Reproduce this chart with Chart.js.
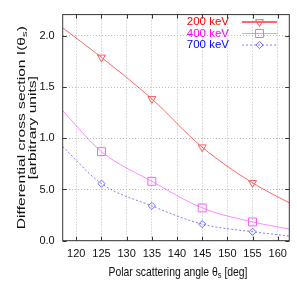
<!DOCTYPE html>
<html>
<head>
<meta charset="utf-8">
<script src="https://cdn.jsdelivr.net/npm/chart.js@4/dist/chart.umd.min.js"></script>
<style>
    html, body { margin: 0; padding: 0; background: #fff; }
    #wrap { width: 297px; height: 287px; }
</style>
</head>
<body>
<div id="wrap"><canvas id="chart" width="297" height="287"></canvas></div>
<script>
// 数据
const angles = [125, 135, 145, 155];
const keV200 = [1.79, 1.385, 0.913, 0.565];
const keV400 = [0.87, 0.58, 0.32, 0.183];
const keV700 = [0.557, 0.34, 0.162, 0.087];

// 拟合曲线
const curveAngles = [117.3, 125, 135, 145, 155, 162.3];
const curve200 = [2.078, 1.79, 1.385, 0.913, 0.565, 0.369];
const curve400 = [1.269, 0.87, 0.58, 0.32, 0.183, 0.114];
const curve700 = [0.919, 0.557, 0.34, 0.162, 0.087, 0.046];

const seriesLabels = ['200 keV', '400 keV', '700 keV'];
const xTicks = [120, 125, 130, 135, 140, 145, 150, 155, 160];
const yTicks = [0, 0.5, 1.0, 1.5, 2.0];
const yTickLabels = ['0.0', '5.0', '1.0', '1.5', '2.0'];

const FONT = '"Liberation Sans", Arial, sans-serif';

const styles = [
    { text: '#ff0000', line: 'rgba(255,40,40,0.7)', mark: '#ff5c5c', point: 'triangle', rot: 180, radius: 4.6, dash: [] },
    { text: '#ff00ff', line: 'rgba(255,40,255,0.55)', mark: '#ff5cff', point: 'rect', rot: 0, radius: 5.6, dash: [] },
    { text: '#0000ff', line: 'rgba(40,40,255,0.6)', mark: '#6a6aff', point: 'rectRot', rot: 0, radius: 3.6, dash: [2, 2] }
];

const toXY = (xs, ys) => xs.map((x, i) => ({ x: x, y: ys[i] }));

// 绘制带下标的文字（居中，可拉伸）
function drawRich(ctx, parts, x, y, size, sx, sy) {
    const sub = size * 0.72;
    ctx.save();
    ctx.translate(x, y);
    ctx.scale(sx, sy);
    let total = 0;
    parts.forEach(p => {
        ctx.font = `${p.sub ? sub : size}px ${FONT}`;
        total += ctx.measureText(p.t).width;
    });
    let cx = -total / 2;
    parts.forEach(p => {
        ctx.font = `${p.sub ? sub : size}px ${FONT}`;
        ctx.fillText(p.t, cx, p.sub ? size * 0.25 : 0);
        cx += ctx.measureText(p.t).width;
    });
    ctx.restore();
}

// 边框、内向刻度、坐标轴标题、图例
const framePlugin = {
    id: 'frame',
    afterDatasetsDraw(chart) {
        const { ctx, chartArea: a, scales } = chart;
        ctx.save();
        ctx.strokeStyle = '#333';
        ctx.lineWidth = 1;
        ctx.strokeRect(a.left, a.top, a.right - a.left, a.bottom - a.top);

        ctx.beginPath();
        xTicks.forEach(v => {
            const px = Math.round(scales.x.getPixelForValue(v)) + 0.5;
            ctx.moveTo(px, a.bottom); ctx.lineTo(px, a.bottom - 4);
            ctx.moveTo(px, a.top); ctx.lineTo(px, a.top + 4);
        });
        yTicks.forEach(v => {
            const py = Math.round(scales.y.getPixelForValue(v)) + 0.5;
            ctx.moveTo(a.left, py); ctx.lineTo(a.left + 4, py);
            ctx.moveTo(a.right, py); ctx.lineTo(a.right - 4, py);
        });
        ctx.stroke();

        // 图例
        const ys = [22, 33.5, 45];
        seriesLabels.forEach((label, i) => {
            const s = styles[i];
            const y = ys[i];
            ctx.fillStyle = s.text;
            ctx.font = `11.5px ${FONT}`;
            ctx.textAlign = 'right';
            ctx.textBaseline = 'middle';
            ctx.fillText(label, 229, y);
            ctx.strokeStyle = s.line;
            ctx.lineWidth = i === 0 ? 2 : 1;
            ctx.setLineDash(s.dash);
            ctx.beginPath();
            ctx.moveTo(242, y); ctx.lineTo(277, y);
            ctx.stroke();
            ctx.setLineDash([]);
            ctx.lineWidth = 1;
            ctx.strokeStyle = s.mark;
            ctx.fillStyle = 'rgba(0,0,0,0)';
            Chart.helpers.drawPoint(ctx, {
                pointStyle: s.point, rotation: s.rot, radius: s.radius, borderWidth: 1
            }, 259.5, y);
        });

        // 坐标轴标题
        ctx.fillStyle = '#111';
        ctx.textAlign = 'left';
        ctx.textBaseline = 'middle';
        const cx = (a.left + a.right) / 2;
        drawRich(ctx, [{ t: 'Polar scattering angle θ' }, { t: 's', sub: true }, { t: ' [deg]' }], cx + 2, 272, 13, 0.8, 1);

        const cy = (a.top + a.bottom) / 2;
        ctx.translate(0, cy);
        ctx.rotate(-Math.PI / 2);
        drawRich(ctx, [{ t: 'Differential cross section I(θ' }, { t: 's', sub: true }, { t: ')' }], 0, 22, 13, 1.2, 0.85);
        drawRich(ctx, [{ t: '[arbitrary units]' }], 0, 33, 13, 1.2, 0.85);
        ctx.restore();
    }
};

const curveSet = (data, i) => ({
    type: 'line',
    data: toXY(curveAngles, data),
    borderColor: styles[i].line,
    borderWidth: 1,
    borderDash: styles[i].dash,
    pointRadius: 0,
    cubicInterpolationMode: 'monotone',
    fill: false,
    order: 2
});

const markerSet = (data, i) => ({
    type: 'scatter',
    data: toXY(angles, data),
    borderColor: styles[i].mark,
    backgroundColor: 'rgba(0,0,0,0)',
    borderWidth: 1,
    pointStyle: styles[i].point,
    rotation: styles[i].rot,
    pointRadius: styles[i].radius,
    showLine: false,
    order: 1
});

new Chart(document.getElementById('chart').getContext('2d'), {
    data: {
        datasets: [
            curveSet(curve200, 0), curveSet(curve400, 1), curveSet(curve700, 2),
            markerSet(keV200, 0), markerSet(keV400, 1), markerSet(keV700, 2)
        ]
    },
    options: {
        responsive: false,
        animation: false,
        devicePixelRatio: 1,
        layout: { padding: { left: 0, right: 7.7, top: 13.3, bottom: 0 } },
        plugins: { legend: { display: false }, tooltip: { enabled: false } },
        scales: {
            x: {
                type: 'linear',
                min: 117.3,
                max: 162.3,
                afterBuildTicks: s => { s.ticks = xTicks.map(v => ({ value: v })); },
                afterFit: s => { s.height = 46.3; },
                ticks: { color: '#111', font: { family: FONT, size: 11 }, padding: 7, maxRotation: 0 },
                grid: { color: '#bbb', drawTicks: false },
                border: { display: false, dash: [1, 2] }
            },
            y: {
                type: 'linear',
                min: 0,
                max: 2.208,
                afterBuildTicks: s => { s.ticks = yTicks.map(v => ({ value: v })); },
                afterFit: s => { s.width = 62.7; },
                ticks: {
                    color: '#111',
                    font: { family: FONT, size: 11 },
                    padding: 8,
                    callback: (v) => yTickLabels[yTicks.indexOf(v)]
                },
                grid: { color: '#bbb', drawTicks: false },
                border: { display: false, dash: [1, 2] }
            }
        }
    },
    plugins: [framePlugin]
});
</script>
</body>
</html>
